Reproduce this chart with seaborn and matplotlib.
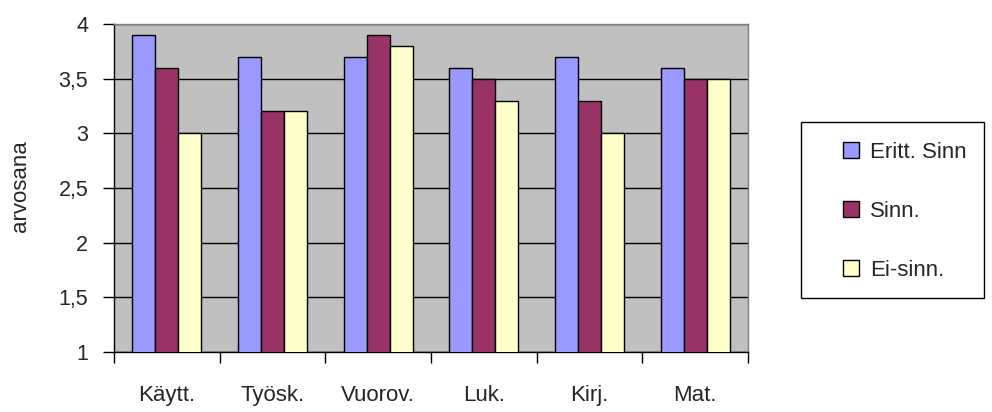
import matplotlib
matplotlib.use("Agg")
import matplotlib.pyplot as plt
import seaborn as sns
import pandas as pd
from matplotlib.ticker import FuncFormatter, FixedLocator
from matplotlib.patches import Rectangle

categories = ["Käytt.", "Työsk.", "Vuorov.", "Luk.", "Kirj.", "Mat."]
series_names = ["Eritt. Sinn", "Sinn.", "Ei-sinn."]
eritt_sinn = [3.9, 3.7, 3.7, 3.6, 3.7, 3.6]
sinn = [3.6, 3.2, 3.9, 3.5, 3.3, 3.5]
ei_sinn = [3.0, 3.2, 3.8, 3.3, 3.0, 3.5]
colors = ["#9999FF", "#993366", "#FFFFCC"]
y_label = "arvosana"

rows = []
for name, vals in zip(series_names, [eritt_sinn, sinn, ei_sinn]):
    for c, v in zip(categories, vals):
        rows.append({"cat": c, "series": name, "value": v})
df = pd.DataFrame(rows)

sns.set_style("white")
plt.rcParams["font.family"] = ["Liberation Sans", "DejaVu Sans"]

W, H = 992, 412
fig = plt.figure(figsize=(W / 100, H / 100), dpi=100)
ax = fig.add_axes([114/W, 1-352/H, (748-114)/W, (352-24)/H])
ax.set_facecolor("#C0C0C0")

sns.barplot(data=df, x="cat", y="value", hue="series", order=categories,
            hue_order=series_names, palette=colors, width=0.655, gap=0,
            edgecolor="black", linewidth=1, saturation=1, ax=ax, legend=True,
            zorder=3)

ax.set_ylim(1, 4)
ax.set_xlim(-0.5, len(categories) - 0.5)
ax.set_yticks([1, 1.5, 2, 2.5, 3, 3.5, 4])
ax.yaxis.set_major_formatter(FuncFormatter(lambda v, p: (f"{v:g}").replace(".", ",")))
ax.grid(axis="y", color="black", linewidth=1, zorder=0)
ax.set_axisbelow(True)
ax.set_xlabel("")
ax.set_ylabel(y_label, fontsize=16)
ax.yaxis.set_label_coords((31 - 114) / (748 - 114), 0.505)

ax.tick_params(axis="y", length=8, width=1, color="black", labelsize=15.5, pad=10.5, direction="out", left=True)
ax.tick_params(axis="x", which="major", length=0, labelsize=16, pad=24)
ax.xaxis.set_minor_locator(FixedLocator([i - 0.5 for i in range(len(categories) + 1)]))
ax.tick_params(axis="x", which="minor", length=8, width=1, color="black", direction="out", bottom=True)

for s in ["left", "bottom"]:
    ax.spines[s].set_color("black")
    ax.spines[s].set_linewidth(1)
for s in ["top", "right"]:
    ax.spines[s].set_color("#808080")
    ax.spines[s].set_linewidth(1)

handles, labels = ax.get_legend_handles_labels()
ax.get_legend().remove()
leg = fig.legend(handles, labels, loc="upper left",
                 bbox_to_anchor=(843/W, 1-142/H), bbox_transform=fig.transFigure,
                 frameon=False, fontsize=16,
                 handlelength=0.7, handleheight=0.7, handletextpad=0.5,
                 labelspacing=1.7, borderpad=0, borderaxespad=0)
fig.patches.append(Rectangle((801/W, 1-298/H), (984-801)/W, (298-122)/H,
                             transform=fig.transFigure, fill=False,
                             edgecolor="black", linewidth=1))

fig.savefig("out.png", dpi=100, facecolor="white")
